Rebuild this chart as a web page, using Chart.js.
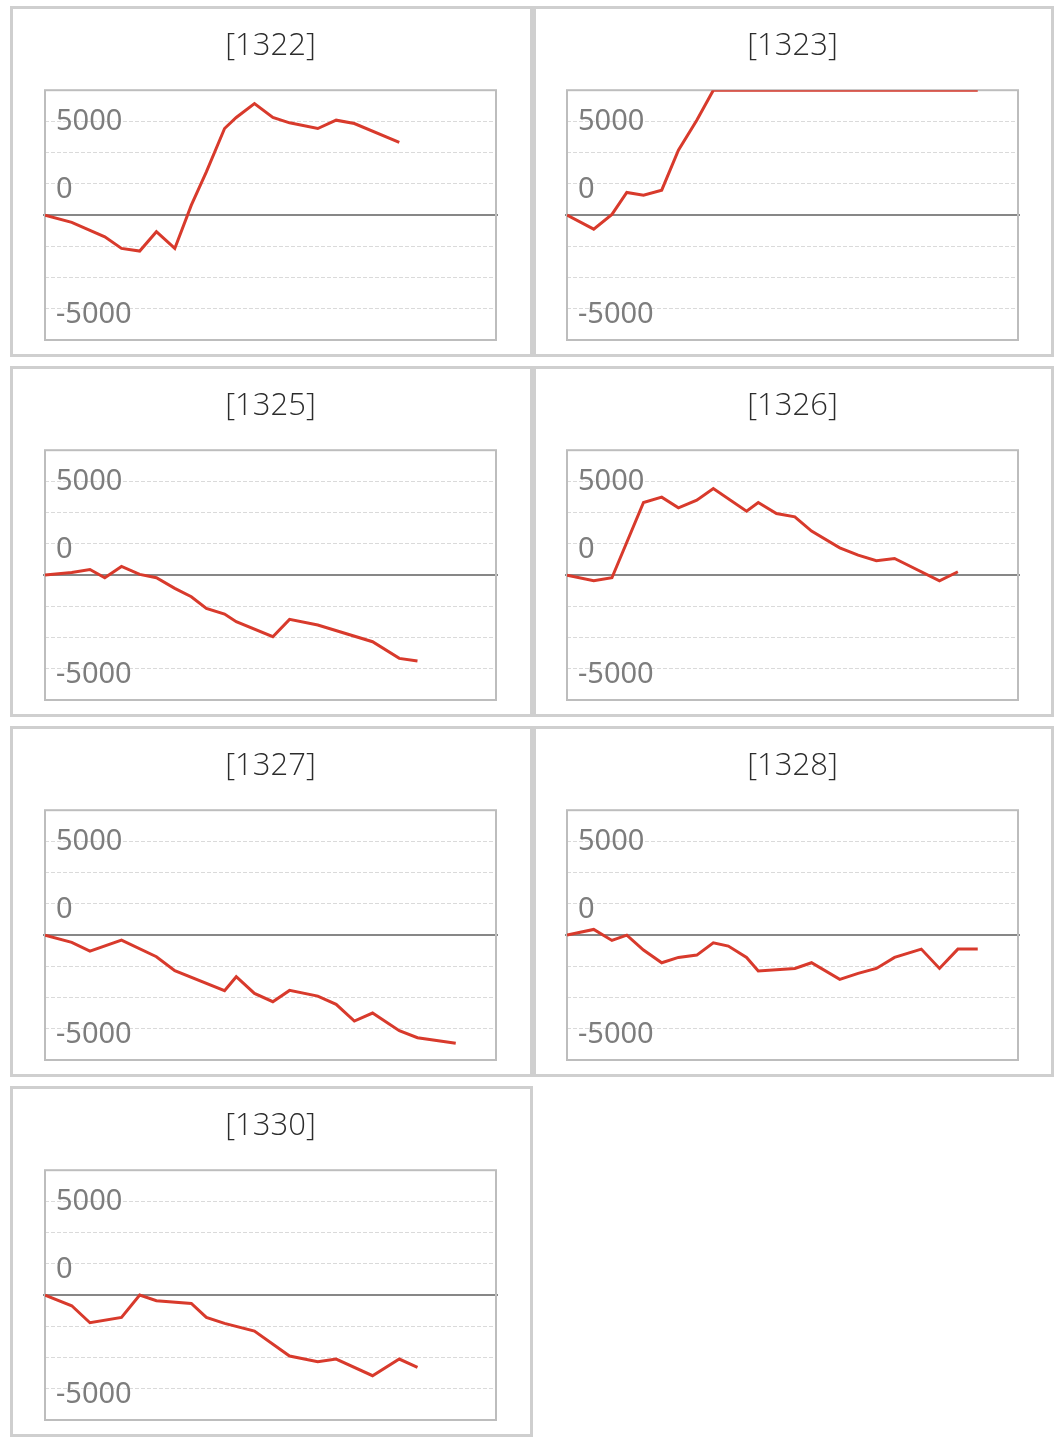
<!DOCTYPE html>
<html>
<head>
<meta charset="utf-8">
<script src="https://cdn.jsdelivr.net/npm/chart.js@4"></script>
<style>
  html, body { margin: 0; padding: 0; background: #fff; }
  #wrap { position: relative; width: 1060px; height: 1443px; }
  .panel { position: absolute; box-sizing: border-box; border: 3px solid #cfcfcf; background: #fff; }
  .panel canvas { display: block; }
</style>
</head>
<body>
<div id="wrap"></div>
<script>
// ---- data ----
const codes = ['[1322]', '[1323]', '[1325]', '[1326]', '[1327]', '[1328]', '[1330]'];
const times = [0, 1.6, 2.69, 3.58, 4.58, 5.67, 6.67, 7.77, 8.76, 9.66, 10.75, 11.45, 12.54, 13.64, 14.64, 16.33, 17.43, 18.52, 19.61, 21.21, 22.30, 23.40, 24.59];
const s1322 = [0, -391, null, -1156, -1778, -1920, -889, -1778, 533, 2311, 4622, 5209, 5956, 5209, 4925, 4622, 5067, 4889, null, 3876, null, null, null];
const s1323 = [0, -747, 36, 1209, 1067, 1333, 3467, 5067, 6667, 6667, 6667, 6667, 6667, 6667, 6667, 6667, 6667, 6667, 6667, 6667, 6667, 6667, 6667];
const s1325 = [0, 142, 302, -142, 462, 36, -142, -711, -1156, -1778, -2080, -2489, null, -3289, -2364, -2667, null, null, -3556, -4445, -4587, null, null];
const s1326 = [0, -302, -142, null, 3876, 4160, 3591, 4000, 4622, null, 3413, 3876, 3289, 3111, 2347, 1458, 1067, 764, 889, null, -302, 178, null];
const s1327 = [0, -391, -853, null, -267, null, -1156, -1902, null, null, -2969, -2222, -3111, -3556, -2951, -3254, -3698, -4587, -4160, -5103, -5476, null, -5778];
const s1328 = [0, 302, -284, 0, -800, -1476, -1191, -1067, -409, -587, -1191, -1920, null, -1778, -1476, -2364, -2044, -1778, -1191, -747, -1778, -747, -747];
const s1330 = [0, -569, -1476, null, -1191, 0, -302, null, -444, -1191, -1511, null, -1920, null, -3254, -3556, -3413, null, -4302, -3413, -3858, null, null];
const seriesList = [s1322, s1323, s1325, s1326, s1327, s1328, s1330];
const yTickLabels = ['5000', '0', '-5000'];
const yTickValues = [5000, 0, -5000];
const xMin = 0, xMax = 27;
const yMax = 20000 / 3;
const yStep = yMax / 4;

// ---- styles / layout ----
const LABEL_DY = [0, -25, 6];
const RED = '#d83a2c';
const COLS = [{ left: 10, width: 523, padL: 32, padR: 34 }, { left: 533, width: 521, padL: 31, padR: 33 }];
const ROW_TOP = 6, ROW_PITCH = 360, PANEL_H = 351;

const framePlugin = {
  id: 'frameAndLabels',
  beforeDatasetsDraw(chart) {
    const { ctx, chartArea: a, scales } = chart;
    const y = scales.y;
    ctx.save();
    // zero line
    const y0 = Math.round(y.getPixelForValue(0));
    ctx.strokeStyle = '#878787';
    ctx.lineWidth = 2;
    ctx.beginPath();
    ctx.moveTo(a.left - 2, y0);
    ctx.lineTo(a.right + 2, y0);
    ctx.stroke();
    // frame
    ctx.strokeStyle = '#bdbdbd';
    ctx.lineWidth = 2;
    ctx.strokeRect(a.left, a.top, a.right - a.left, a.bottom - a.top);
    // tick labels
    ctx.fillStyle = '#7d7d7d';
    ctx.font = '29px "Noto Sans", "DejaVu Sans", sans-serif';
    ctx.textAlign = 'left';
    ctx.textBaseline = 'middle';
    yTickValues.forEach((v, i) => {
      ctx.fillText(yTickLabels[i], a.left + 11, y.getPixelForValue(v) + LABEL_DY[i]);
    });
    ctx.restore();
  }
};

const wrap = document.getElementById('wrap');
codes.forEach((code, i) => {
  const col = COLS[i % 2];
  const row = Math.floor(i / 2);
  const div = document.createElement('div');
  div.className = 'panel';
  div.style.left = col.left + 'px';
  div.style.top = (ROW_TOP + row * ROW_PITCH) + 'px';
  div.style.width = col.width + 'px';
  div.style.height = PANEL_H + 'px';
  const cv = document.createElement('canvas');
  cv.width = col.width - 6;
  cv.height = PANEL_H - 6;
  cv.style.width = cv.width + 'px';
  cv.style.height = cv.height + 'px';
  div.appendChild(cv);
  wrap.appendChild(div);

  const vals = seriesList[i];
  new Chart(cv, {
    type: 'line',
    data: {
      labels: times,
      datasets: [{
        data: times.map((t, k) => ({ x: t, y: vals[k] })),
        borderColor: RED,
        borderWidth: 3,
        pointRadius: 0,
        tension: 0,
        spanGaps: true,
        fill: false
      }]
    },
    options: {
      responsive: false,
      animation: false,
      devicePixelRatio: 1,
      layout: { padding: { left: col.padL, right: col.padR, top: 0, bottom: 14 } },
      plugins: {
        legend: { display: false },
        tooltip: { enabled: false },
        title: {
          display: true,
          text: code,
          color: '#2c2c2c',
          font: { family: '"Open Sans", "Noto Sans", sans-serif', size: 31, weight: '300' },
          padding: { top: 19, bottom: 25 }
        }
      },
      scales: {
        x: { type: 'linear', min: xMin, max: xMax, display: false },
        y: {
          type: 'linear',
          min: -yMax,
          max: yMax,
          afterBuildTicks: s => { s.ticks = [-4, -3, -2, -1, 0, 1, 2, 3, 4].map(k => ({ value: k * yStep })); },
          afterFit: s => { s.width = 0; },
          ticks: { display: false },
          grid: { color: '#dadada', lineWidth: 1, drawTicks: false },
          border: { display: false, dash: [4, 2] }
        }
      }
    },
    plugins: [framePlugin]
  });
});
</script>
</body>
</html>
